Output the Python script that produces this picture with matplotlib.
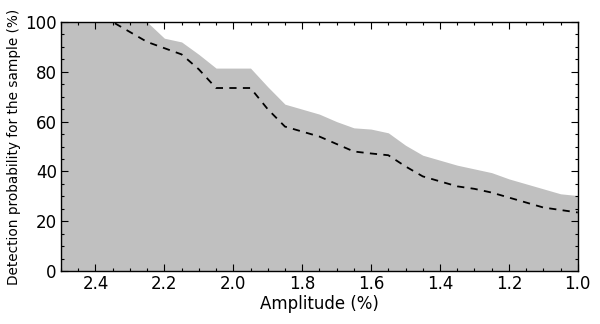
import numpy as np
import matplotlib
matplotlib.use("Agg")
import matplotlib.pyplot as plt
from matplotlib.ticker import MultipleLocator

# amplitude grid (%) and detection probabilities (%)
amplitude = [2.50, 2.45, 2.40, 2.35, 2.30, 2.25, 2.20, 2.15, 2.10, 2.05, 2.00,
             1.95, 1.90, 1.85, 1.80, 1.75, 1.70, 1.65, 1.60, 1.55, 1.50,
             1.45, 1.40, 1.35, 1.30, 1.25, 1.20, 1.15, 1.10, 1.05, 1.00]
upper = [100, 100, 100, 100, 100, 100, 93.5, 92, 87, 81.5, 81.5,
         81.5, 74, 67, 65, 63, 60, 57.5, 57, 55.5, 50.5,
         46.5, 44.5, 42.5, 41, 39.5, 37, 35, 33, 31, 30.3]
sample = [100, 100, 100, 100, 96, 92, 89.5, 87, 81, 73.5, 73.5,
          73.5, 65, 58, 56, 54, 51, 48, 47.2, 46.5, 42,
          38, 36, 34, 33, 31.5, 29.5, 27.5, 25.5, 24.5, 23.5]

fig = plt.figure(figsize=(6, 3.24), dpi=100)
ax = fig.add_axes([0.1017, 0.1636, 0.8613, 0.7684])

ax.fill_between(amplitude, 0, upper, color='#c0c0c0', linewidth=0)
ax.plot(amplitude, sample, color='black', linestyle='--', linewidth=1.3,
        dashes=(4, 3.5))

ax.set_xlim(2.5, 1.0)
ax.set_ylim(0, 100)
ax.xaxis.set_major_locator(MultipleLocator(0.2))
ax.xaxis.set_minor_locator(MultipleLocator(0.05))
ax.yaxis.set_major_locator(MultipleLocator(20))
ax.yaxis.set_minor_locator(MultipleLocator(5))
ax.tick_params(which='both', direction='in', top=True, right=True,
               labelsize=12, width=0.8, pad=3)
ax.tick_params(which='major', length=5)
ax.tick_params(which='minor', length=2.5)
for s in ax.spines.values():
    s.set_linewidth(1.0)
ax.set_axisbelow(False)

ax.set_xlabel('Amplitude (%)', fontsize=12, labelpad=1)
ax.set_ylabel('Detection probability for the sample (%)', fontsize=9.8, labelpad=3)

fig.savefig('out.png', dpi=100)
